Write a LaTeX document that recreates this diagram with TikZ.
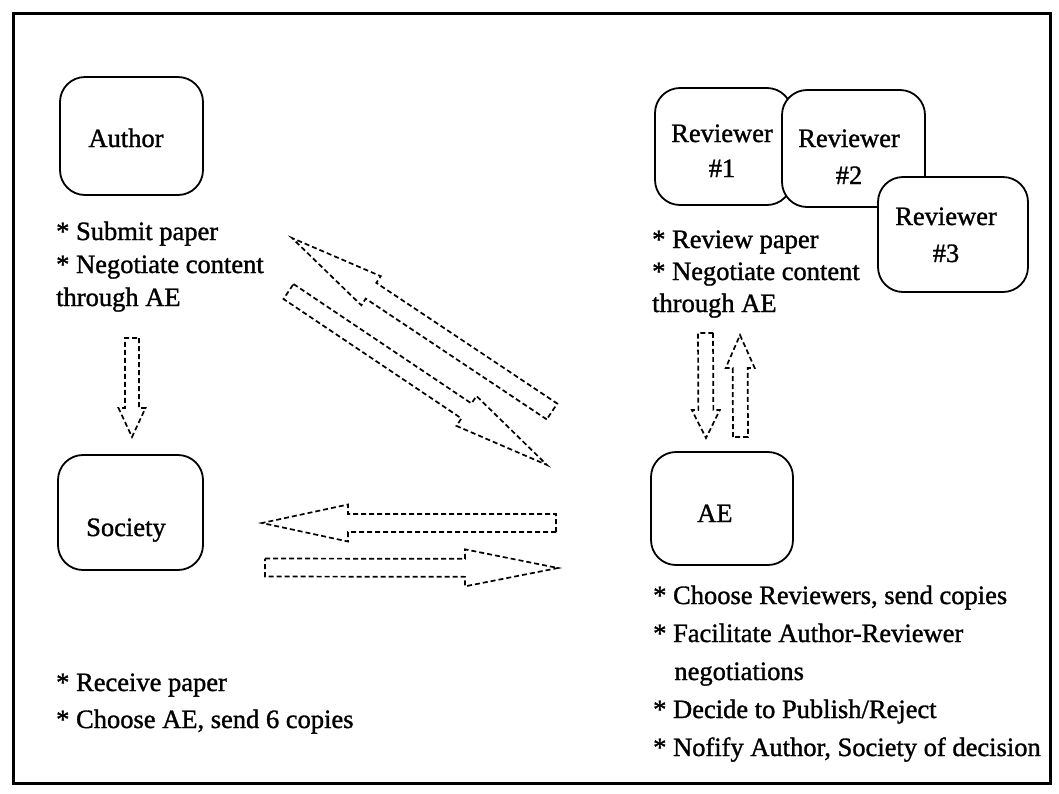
\documentclass[tikz,border=0pt]{standalone}
\usepackage{fontspec}
\setmainfont{Liberation Serif}[FakeBold=1.2]
\newcommand{\blkarrow}[7]{%
  \pgfmathsetmacro{\baang}{atan2(#2-#4,#3-#1)}%
  \pgfmathsetmacro{\balen}{veclen(#3-#1,#4-#2)}%
  \pgfmathsetmacro{\babase}{\balen-#7}%
  \begin{scope}[shift={(#1,#2)}, rotate=\baang]
    \draw[dasharrow] (0,-#5/2) -- (\babase,-#5/2) -- (\babase,-#6/2) -- (\balen,0)
      -- (\babase,#6/2) -- (\babase,#5/2) -- (0,#5/2) -- cycle;
  \end{scope}}
\tikzset{
  box/.style={draw, line width=1.8pt, rounded corners=25pt, fill=white, inner sep=0pt},
  lbl/.style={inner sep=0pt, font=\fontsize{26.5}{33}\selectfont},
  dasharrow/.style={line width=1.7pt, dash pattern=on 5pt off 3pt, line join=miter},
}
\begin{document}
\begin{tikzpicture}[x=1pt,y=-1pt]
\useasboundingbox (0,0) rectangle (1059,793);
\draw[line width=3pt] (13,13) rectangle (1050,783);

% boxes
\node[box, minimum width=143pt, minimum height=118pt] (author) at (131.5,136) {};
\node[lbl, anchor=base] (authort) at (126,147) {Author};
\node[box, minimum width=145pt, minimum height=115pt] (society) at (130.5,512.5) {};
\node[lbl, anchor=base west] (societyt) at (86,536) {Society};
\node[box, minimum width=142pt, minimum height=113pt] (ae) at (722,508.5) {};
\node[lbl, anchor=base west] (aet) at (697,522) {AE};

\node[box, minimum width=137pt, minimum height=117pt] (rev1) at (723.5,146.5) {};
\node[lbl, anchor=base, font=\fontsize{26.5}{35}\selectfont] (rev1t) at (722,142)
  {\begin{tabular}[t]{@{}c@{}}Reviewer\\\#1\end{tabular}};
\node[box, minimum width=143pt, minimum height=117pt] (rev2) at (853.5,148.5) {};
\node[lbl, anchor=base, font=\fontsize{26.5}{37}\selectfont] (rev2t) at (849,147)
  {\begin{tabular}[t]{@{}c@{}}Reviewer\\\#2\end{tabular}};
\node[box, minimum width=150pt, minimum height=115pt] (rev3) at (953,234.5) {};
\node[lbl, anchor=base, font=\fontsize{26.5}{37}\selectfont] (rev3t) at (946,225)
  {\begin{tabular}[t]{@{}c@{}}Reviewer\\\#3\end{tabular}};

% bullet lists
\node[lbl, anchor=base west, font=\fontsize{26.5}{33}\selectfont] (authorlist) at (56,240)
  {\begin{tabular}[t]{@{}l@{}}{*} Submit paper\\{*} Negotiate content\\through AE\end{tabular}};
\node[lbl, anchor=base west, font=\fontsize{26.5}{32}\selectfont] (revlist) at (652,248)
  {\begin{tabular}[t]{@{}l@{}}{*} Review paper\\{*} Negotiate content\\through AE\end{tabular}};
\node[lbl, anchor=base west, font=\fontsize{26.5}{37}\selectfont] (soclist) at (56,691)
  {\begin{tabular}[t]{@{}l@{}}{*} Receive paper\\{*} Choose AE, send 6 copies\end{tabular}};
\node[lbl, anchor=base west, font=\fontsize{26.5}{38}\selectfont] (aelist) at (653,604)
  {\begin{tabular}[t]{@{}l@{}}{*} Choose Reviewers, send copies\\{*} Facilitate Author-Reviewer\\\hspace{0.8em}negotiations\\{*} Decide to Publish/Reject\\{*} Nofify Author, Society of decision\end{tabular}};

% block arrows
\blkarrow{132}{338}{132}{437}{14}{27}{29}
\blkarrow{552}{411.5}{292}{238}{19}{35}{95}
\blkarrow{288.5}{291.5}{547}{465}{18}{36}{97}
\blkarrow{556}{523}{262}{523}{18}{37}{86}
\blkarrow{265}{567.5}{558}{568}{18}{37}{93}
\blkarrow{705.5}{333}{706}{438}{15}{28}{28}
\blkarrow{740.5}{437}{740}{335}{15}{29}{33}
\end{tikzpicture}
\end{document}
